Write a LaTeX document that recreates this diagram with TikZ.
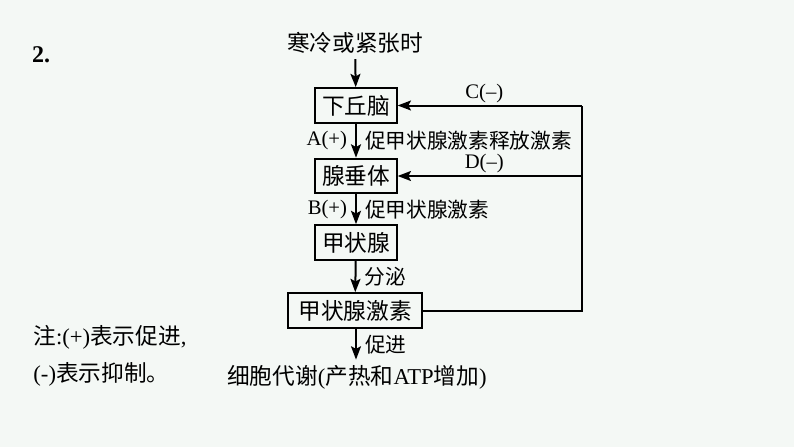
\documentclass[tikz,border=0pt]{standalone}
\usepackage{fontspec}
\setmainfont{Liberation Serif}
\newfontfamily\cjk{Noto Sans CJK SC}
\usetikzlibrary{arrows.meta,positioning}
\definecolor{bgpaper}{RGB}{244,248,245}
\newcommand{\zh}[1]{{\cjk #1}}

\begin{document}
\begin{tikzpicture}[->,>={Stealth[length=10pt,width=7.5pt,inset=2pt]},line width=1.5pt,x=0.75pt,y=-0.75pt]
	\tikzstyle{organ}=[draw=black,line width=1.5pt,inner xsep=5pt,inner ysep=0pt,minimum height=26pt,font=\fontsize{17}{20}\selectfont]
	\tikzstyle{lbl}=[font=\fontsize{15.5}{18}\selectfont,inner xsep=6pt,inner ysep=1.5pt]
	\tikzstyle{plain}=[font=\fontsize{17}{20}\selectfont]
	\fill[bgpaper,-] (0,0) rectangle (794,447);
	\useasboundingbox (0,0) rectangle (794,447);
	% question number and note
	\node[font=\fontsize{18}{20}\selectfont\bfseries] (num) at (41,55) {2.};
	\node[plain,anchor=west] (note1) at (28,337) {\zh{注}:(+)\zh{表示促进},};
	\node[plain,anchor=west] (note2) at (28,374) {(-)\zh{表示抑制。}};
	% main chain
	\node[plain] (cold) at (355,43) {\zh{寒冷或紧张时}};
	\node[organ] (hyp)  at (356,105.5) {\zh{下丘脑}};
	\node[organ] (pit)  at (356,176)   {\zh{腺垂体}};
	\node[organ] (thy)  at (356,242.5) {\zh{甲状腺}};
	\node[organ,minimum width=100pt] (thyh) at (355,310.5) {\zh{甲状腺激素}};
	\node[plain] (metab) at (357,377) {\zh{细胞代谢}(\zh{产热和}ATP\zh{增加})};
	\coordinate (fbtop) at (582,105.5);
	\coordinate (fbmid) at (582,176);
	\path
	(cold) edge (hyp)
	(hyp)  edge node[lbl,left]{A(+)} node[lbl,right]{\zh{促甲状腺激素释放激素}} (pit)
	(pit)  edge node[lbl,left]{B(+)} node[lbl,right]{\zh{促甲状腺激素}} (thy)
	(thy)  edge node[lbl,right]{\zh{分泌}} (thyh)
	(thyh.south -| thy.south) edge node[lbl,right]{\zh{促进}} (metab.north -| thy.south);
	% negative feedback
	\draw[-] (thyh.east) -| (fbtop);
	\draw (fbtop) -- node[lbl,above,pos=0.53]{C(--)} (hyp.east);
	\draw (fbmid) -- node[lbl,above,pos=0.53]{D(--)} (pit.east);
\end{tikzpicture}
\end{document}
